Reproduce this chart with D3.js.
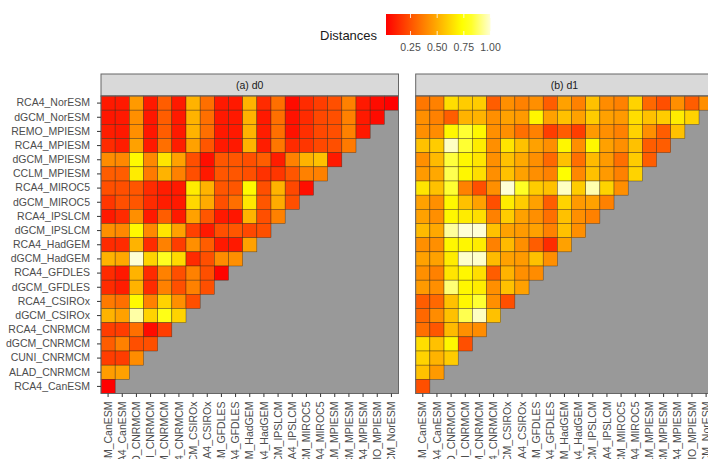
<!DOCTYPE html>
<html>
<head>
<meta charset="utf-8">
<script src="https://cdn.jsdelivr.net/npm/d3@7"></script>
<style>
  body { margin: 0; background: #fff; }
  svg { display: block; font-family: "Liberation Sans", Arial, sans-serif; }
</style>
</head>
<body>
<svg id="svg"></svg>
<script>
// models in sorted order; x uses first 21, y uses last 21
const models = ["dGCM_CanESM", "RCA4_CanESM", "ALAD_CNRMCM", "CUNI_CNRMCM", "dGCM_CNRMCM", "RCA4_CNRMCM",
  "dGCM_CSIROx", "RCA4_CSIROx", "dGCM_GFDLES", "RCA4_GFDLES", "dGCM_HadGEM", "RCA4_HadGEM",
  "dGCM_IPSLCM", "RCA4_IPSLCM", "dGCM_MIROC5", "RCA4_MIROC5", "CCLM_MPIESM", "dGCM_MPIESM",
  "RCA4_MPIESM", "REMO_MPIESM", "dGCM_NorESM", "RCA4_NorESM"];

const panelTitles = ["(a) d0", "(b) d1"];
const legendTicks = [0.25, 0.50, 0.75, 1.00];

// rows listed from top (RCA4_NorESM) down to bottom (RCA4_CanESM)
const d0 = [
  [0.09, 0.09, 0.45, 0.09, 0.28, 0.09, 0.52, 0.33, 0.09, 0.09, 0.52, 0.14, 0.33, 0.05, 0.14, 0.19, 0.24, 0.38, 0.09, 0.05, 0.02],
  [0.08, 0.09, 0.42, 0.08, 0.28, 0.09, 0.52, 0.33, 0.09, 0.09, 0.52, 0.09, 0.33, 0.07, 0.14, 0.22, 0.24, 0.38, 0.09, 0.05],
  [0.10, 0.09, 0.42, 0.08, 0.28, 0.09, 0.52, 0.33, 0.09, 0.09, 0.52, 0.10, 0.33, 0.07, 0.15, 0.22, 0.24, 0.38, 0.09],
  [0.14, 0.10, 0.47, 0.09, 0.33, 0.10, 0.47, 0.26, 0.09, 0.09, 0.52, 0.10, 0.35, 0.14, 0.17, 0.22, 0.24, 0.36],
  [0.41, 0.40, 0.72, 0.40, 0.66, 0.47, 0.24, 0.06, 0.26, 0.26, 0.24, 0.28, 0.10, 0.38, 0.52, 0.56, 0.09],
  [0.28, 0.28, 0.68, 0.36, 0.52, 0.38, 0.24, 0.09, 0.26, 0.26, 0.24, 0.16, 0.17, 0.26, 0.38, 0.38],
  [0.24, 0.24, 0.26, 0.14, 0.10, 0.09, 0.68, 0.52, 0.26, 0.26, 0.72, 0.24, 0.52, 0.22, 0.06],
  [0.17, 0.24, 0.26, 0.14, 0.10, 0.09, 0.62, 0.50, 0.24, 0.33, 0.67, 0.26, 0.50, 0.24],
  [0.09, 0.14, 0.42, 0.09, 0.28, 0.09, 0.47, 0.26, 0.09, 0.08, 0.52, 0.24, 0.38],
  [0.42, 0.40, 0.72, 0.40, 0.66, 0.47, 0.20, 0.09, 0.24, 0.26, 0.22, 0.24],
  [0.14, 0.14, 0.52, 0.14, 0.38, 0.19, 0.42, 0.28, 0.09, 0.09, 0.47],
  [0.52, 0.49, 1.00, 0.61, 0.80, 0.63, 0.14, 0.24, 0.41, 0.42],
  [0.14, 0.09, 0.52, 0.14, 0.38, 0.24, 0.38, 0.24, 0.03],
  [0.14, 0.10, 0.52, 0.14, 0.38, 0.24, 0.38, 0.24],
  [0.36, 0.33, 0.72, 0.38, 0.61, 0.42, 0.24],
  [0.52, 0.47, 0.95, 0.61, 0.78, 0.61],
  [0.19, 0.19, 0.33, 0.05, 0.19],
  [0.28, 0.38, 0.24, 0.24],
  [0.19, 0.19, 0.41],
  [0.46, 0.47],
  [0.02]
];

const d1 = [
  [0.35, 0.38, 0.64, 0.59, 0.59, 0.28, 0.42, 0.38, 0.42, 0.28, 0.47, 0.38, 0.56, 0.41, 0.38, 0.61, 0.31, 0.24, 0.42, 0.28, 0.42],
  [0.42, 0.38, 0.28, 0.52, 0.52, 0.42, 0.47, 0.45, 0.71, 0.47, 0.56, 0.47, 0.59, 0.47, 0.45, 0.64, 0.56, 0.59, 0.68, 0.61],
  [0.42, 0.41, 0.71, 0.83, 0.71, 0.42, 0.42, 0.33, 0.38, 0.19, 0.28, 0.19, 0.45, 0.42, 0.38, 0.61, 0.42, 0.28, 0.56],
  [0.56, 0.59, 0.98, 0.83, 0.68, 0.42, 0.66, 0.56, 0.47, 0.42, 0.71, 0.42, 0.71, 0.47, 0.42, 0.56, 0.28, 0.28],
  [0.42, 0.54, 0.84, 0.71, 0.66, 0.42, 0.56, 0.49, 0.42, 0.31, 0.56, 0.33, 0.54, 0.45, 0.33, 0.59, 0.28],
  [0.45, 0.49, 0.86, 0.71, 0.64, 0.42, 0.56, 0.47, 0.42, 0.38, 0.73, 0.40, 0.56, 0.45, 0.38, 0.61],
  [0.66, 0.56, 0.83, 0.38, 0.24, 0.42, 1.00, 0.81, 0.59, 0.56, 0.98, 0.59, 0.96, 0.61, 0.42],
  [0.47, 0.42, 0.71, 0.56, 0.47, 0.24, 0.68, 0.59, 0.47, 0.28, 0.61, 0.45, 0.47, 0.38],
  [0.47, 0.42, 0.71, 0.68, 0.64, 0.38, 0.59, 0.47, 0.42, 0.33, 0.56, 0.42, 0.38],
  [0.54, 0.49, 0.94, 1.00, 1.00, 0.56, 0.47, 0.45, 0.47, 0.38, 0.56, 0.42],
  [0.42, 0.42, 0.71, 0.71, 0.68, 0.38, 0.54, 0.42, 0.28, 0.14, 0.47],
  [0.47, 0.47, 0.68, 0.99, 0.99, 0.54, 0.47, 0.45, 0.56, 0.42],
  [0.42, 0.38, 0.66, 0.71, 0.64, 0.28, 0.52, 0.42, 0.41],
  [0.45, 0.42, 0.90, 0.71, 0.68, 0.42, 0.56, 0.47],
  [0.28, 0.31, 0.56, 0.71, 0.83, 0.42, 0.24],
  [0.31, 0.41, 0.56, 0.86, 0.98, 0.56],
  [0.33, 0.26, 0.54, 0.42, 0.41],
  [0.64, 0.56, 0.71, 0.24],
  [0.61, 0.52, 0.59],
  [0.56, 0.45],
  [0.24]
];

const heat = ["#FF0000", "#FF2000", "#FF4000", "#FF6000", "#FF8000", "#FF9F00",
              "#FFBF00", "#FFDF00", "#FFFF00", "#FFFF2A", "#FFFF80", "#FFFFD5"];

const xModels = models.slice(0, 21);
const yModels = models.slice(1).reverse();

let layout = {"width": 708, "height": 459,
              "panelTop": 96, "panelSize": 297.5,
              "panelLefts": [101, 415.7],
              "stripHeight": 22};

let svg = d3.select("#svg")
  .attr("width", layout.width)
  .attr("height", layout.height);

let flat = [d0, d1].map(m => {
  let out = [];
  m.forEach((row, r) => row.forEach((v, c) => out.push({"row": yModels[r], "col": xModels[c], "value": v})));
  return out;
});

let ext = d3.extent(flat.flat(), d => d.value);
let colorScale = d3.scaleLinear()
  .domain(heat.map((_, i) => ext[0] + i * (ext[1] - ext[0]) / (heat.length - 1)))
  .range(heat);

let xScale = d3.scaleBand().domain(xModels).range([0, layout.panelSize]);
let yScale = d3.scaleBand().domain(yModels).range([0, layout.panelSize]);

const textGray = "#4D4D4D";

flat.forEach((data, p) => {
  let g = svg.append("g")
    .attr("transform", `translate(${layout.panelLefts[p]}, ${layout.panelTop})`);

  // strip
  g.append("rect")
    .attr("x", 0).attr("y", -layout.stripHeight)
    .attr("width", layout.panelSize).attr("height", layout.stripHeight)
    .attr("fill", "#D9D9D9").attr("stroke", "#666").attr("stroke-width", 1);
  g.append("text")
    .attr("x", layout.panelSize / 2).attr("y", -layout.stripHeight / 2)
    .attr("dy", "0.35em")
    .attr("text-anchor", "middle")
    .attr("font-size", 10.5).attr("fill", "#1A1A1A")
    .text(panelTitles[p]);

  // background
  g.append("rect")
    .attr("width", layout.panelSize).attr("height", layout.panelSize)
    .attr("fill", "#999999");

  g.selectAll(".tile")
    .data(data)
    .join("rect")
    .attr("class", "tile")
    .attr("x", d => xScale(d.col))
    .attr("y", d => yScale(d.row))
    .attr("width", xScale.bandwidth())
    .attr("height", yScale.bandwidth())
    .attr("fill", d => colorScale(d.value))
    .attr("stroke", "#3a2a1a").attr("stroke-opacity", 0.75)
    .attr("stroke-width", 0.5);

  g.append("rect")
    .attr("width", layout.panelSize).attr("height", layout.panelSize)
    .attr("fill", "none").attr("stroke", "#666").attr("stroke-width", 1);

  // x axis
  let xAxis = g.append("g")
    .attr("transform", `translate(0, ${layout.panelSize})`)
    .call(d3.axisBottom(xScale).tickSize(3.5).tickPadding(0).tickSizeOuter(0));
  xAxis.select(".domain").remove();
  xAxis.selectAll(".tick line").attr("stroke", "#333");
  xAxis.selectAll(".tick text")
    .attr("font-size", 10.5)
    .attr("font-family", "Liberation Sans, Arial, sans-serif")
    .attr("fill", textGray)
    .attr("text-anchor", "end")
    .attr("transform", "translate(0, 8) rotate(-90)")
    .attr("x", 0).attr("y", 0)
    .attr("dy", "0.35em");

  // y axis only on first panel
  if (p === 0) {
    let yAxis = g.append("g")
      .call(d3.axisLeft(yScale).tickSize(4).tickPadding(7).tickSizeOuter(0));
    yAxis.select(".domain").remove();
    yAxis.selectAll(".tick line").attr("stroke", "#333");
    yAxis.selectAll(".tick text")
      .attr("font-size", 10.5)
      .attr("font-family", "Liberation Sans, Arial, sans-serif")
      .attr("fill", textGray);
  }
});

// legend
let legendScale = d3.scaleLinear().domain(ext).range([386, 490.5]);
let defs = svg.append("defs");
let grad = defs.append("linearGradient").attr("id", "heatGrad");
heat.forEach((c, i) => grad.append("stop")
  .attr("offset", `${100 * i / (heat.length - 1)}%`)
  .attr("stop-color", c));

svg.append("rect")
  .attr("x", legendScale(ext[0])).attr("y", 14)
  .attr("width", legendScale(ext[1]) - legendScale(ext[0])).attr("height", 21)
  .attr("fill", "url(#heatGrad)");

svg.selectAll(".legTick")
  .data(legendTicks)
  .join("g")
  .attr("class", "legTick")
  .each(function (d) {
    let x = legendScale(d);
    d3.select(this).append("line")
      .attr("x1", x).attr("x2", x).attr("y1", 14).attr("y2", 18)
      .attr("stroke", "#fff").attr("stroke-width", 0.8);
    d3.select(this).append("line")
      .attr("x1", x).attr("x2", x).attr("y1", 31).attr("y2", 35)
      .attr("stroke", "#fff").attr("stroke-width", 0.8);
    d3.select(this).append("text")
      .attr("x", x).attr("y", 51)
      .attr("text-anchor", "middle")
      .attr("font-size", 10.5).attr("fill", textGray)
      .text(d3.format(".2f")(d));
  });

svg.append("text")
  .attr("x", 320).attr("y", 39.5)
  .attr("font-size", 13).attr("fill", "#1A1A1A")
  .text("Distances");
</script>
</body>
</html>
